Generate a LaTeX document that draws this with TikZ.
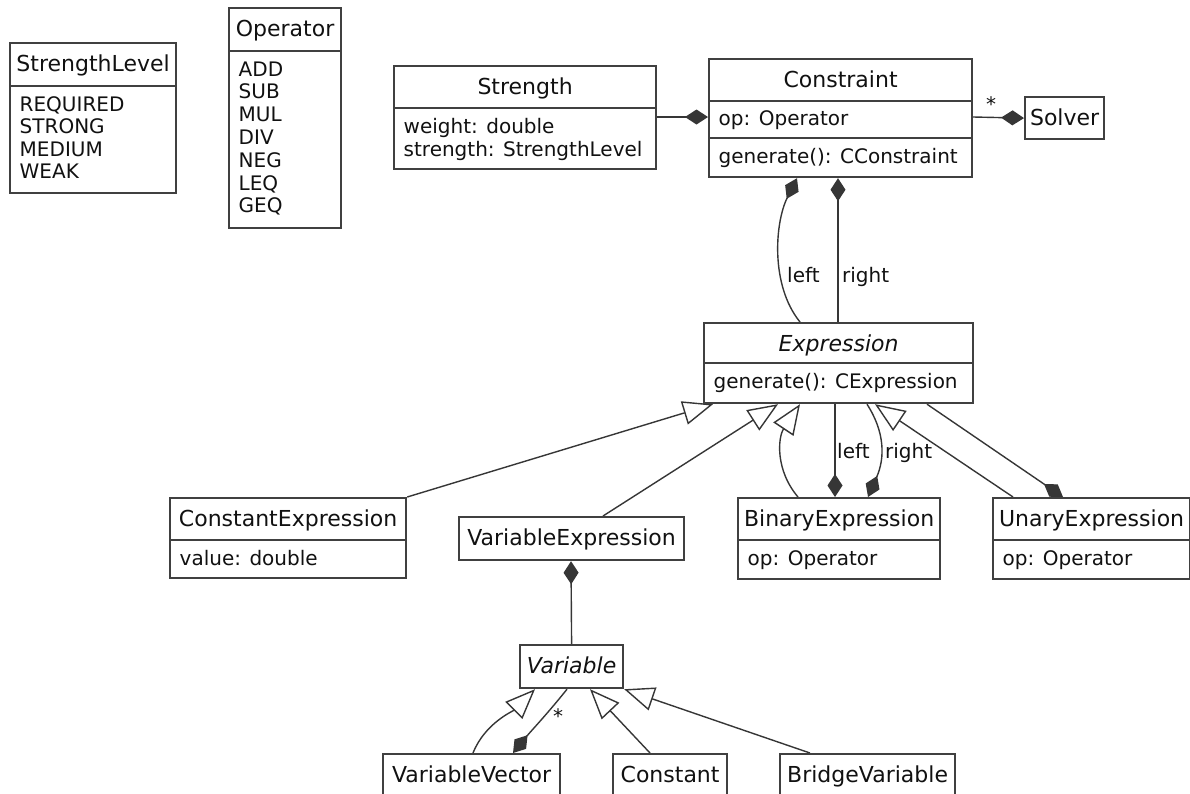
\documentclass[tikz,border=0pt]{standalone}
\usepackage{fontspec}
\setmainfont{DejaVu Sans}
\usetikzlibrary{arrows.meta,calc}
\definecolor{boxc}{HTML}{404040}
\definecolor{linec}{HTML}{363636}
\definecolor{txtc}{HTML}{111111}
\pgfdeclarelayer{background}
\pgfsetlayers{background,main}

% a class box: name, x, y, width, height, title
\newcommand{\classbox}[6]{%
  \node[box, minimum width=#4pt, minimum height=#5pt] (#1) at (#2,#3) {};
  \node[titletext] (#1-title) at ($(#1.north)+(0,29.3)$) {#6};}
% a compartment separator at a distance below the top of the box
\newcommand{\classsep}[2]{%
  \draw[boxline] ($(#1.north west)+(0,#2)$) -- ($(#1.north east)+(0,#2)$);}
% one attribute / literal line: node name, box, baseline offset, text
\newcommand{\classattr}[4]{%
  \node[attrtext] (#1) at ($(#2.north west)+(10.5,#3)$) {#4};}

\begin{document}
\begin{tikzpicture}[x=1pt,y=-1pt,
  box/.style={draw=boxc, line width=2.2pt, fill=white, inner sep=0pt, anchor=north west},
  boxline/.style={draw=boxc, line width=2.2pt},
  titletext/.style={anchor=base, inner sep=0pt, text=txtc, font=\fontsize{22}{26}\selectfont},
  attrtext/.style={anchor=base west, inner sep=0pt, text=txtc, font=\fontsize{20}{23}\selectfont},
  lbl/.style={inner sep=0pt, text=txtc, font=\fontsize{20}{23}\selectfont},
  conn/.style={draw=linec, line width=1.4pt},
  comp/.style={conn, -{Diamond[length=23pt,width=15pt]}, color=linec},
  compstart/.style={conn, {Diamond[length=23pt,width=15pt]}-, color=linec},
  gen/.style={conn, -{Triangle[open,length=30pt,width=24pt,fill=white]}, color=linec}]
\useasboundingbox (0,0) rectangle (1190,793);
\clip (0,0) rectangle (1190,793);

% enumerations
\classbox{slevel}{9}{42}{166}{150}{StrengthLevel}
\classsep{slevel}{44}
\foreach \t [count=\i from 0] in {REQUIRED,STRONG,MEDIUM,WEAK}
  \classattr{slevel-\i}{slevel}{69+22.5*\i}{\t};

\classbox{operator}{228}{7}{112}{220}{Operator}
\classsep{operator}{44}
\foreach \t [count=\i from 0] in {ADD,SUB,MUL,DIV,NEG,LEQ,GEQ}
  \classattr{operator-\i}{operator}{69+22.8*\i}{\t};

% constraint side
\classbox{strength}{393}{65}{262}{103}{Strength}
\classsep{strength}{43}
\classattr{strength-a}{strength}{68.3}{weight: double}
\classattr{strength-b}{strength}{91.7}{strength: StrengthLevel}

\classbox{constraint}{708}{58}{263}{118}{Constraint}
\classsep{constraint}{43}
\classsep{constraint}{80}
\classattr{constraint-a}{constraint}{67}{op: Operator}
\classattr{constraint-m}{constraint}{105.3}{generate(): CConstraint}

\classbox{solver}{1024}{96}{79}{42}{Solver}

% expressions
\classbox{expr}{703}{322}{269}{80}{\itshape Expression}
\classsep{expr}{41}
\classattr{expr-m}{expr}{66}{generate(): CExpression}

\classbox{constexpr}{169}{497}{236}{80}{ConstantExpression}
\classsep{constexpr}{43}
\classattr{constexpr-a}{constexpr}{68}{value: double}

\classbox{varexpr}{458}{516}{225}{43}{VariableExpression}

\classbox{binexpr}{737}{497}{202}{81}{BinaryExpression}
\classsep{binexpr}{43}
\classattr{binexpr-a}{binexpr}{68}{op: Operator}

\classbox{unexpr}{992}{497}{197}{81}{UnaryExpression}
\classsep{unexpr}{43}
\classattr{unexpr-a}{unexpr}{68}{op: Operator}

% variables
\classbox{variable}{519}{644}{103}{43}{\itshape Variable}
\classbox{varvec}{382}{753}{177}{60}{VariableVector}
\classbox{constant}{612}{753}{114}{60}{Constant}
\classbox{bridge}{779}{753}{175}{60}{BridgeVariable}

% multiplicities and role names
\node[lbl, anchor=base] (solver-mult) at (991,111.5) {*};
\node[lbl, anchor=base west] (c-left) at (787,282) {left};
\node[lbl, anchor=base west] (c-right) at (842,282) {right};
\node[lbl, anchor=base west] (b-left) at (837,458) {left};
\node[lbl, anchor=base west] (b-right) at (885,458) {right};
\node[lbl, anchor=base] (vv-mult) at (558,723.5) {*};

\begin{pgfonlayer}{background}
  % compositions around Constraint
  \draw[comp] ($(strength.north east)+(0,52)$) -- ($(constraint.north west)+(0,59)$);
  \draw[comp] ($(constraint.north east)+(0,59)$) -- (solver.west);
  \draw[comp] ($(expr.north west)+(97,0)$) .. controls +(-30,-37) and +(-22,44) .. ($(constraint.south west)+(89,0)$);
  \draw[comp] ($(expr.north west)+(135,0)$) -- ($(constraint.south west)+(130,0)$);

  % Expression hierarchy
  \draw[gen] (constexpr.north east) -- ($(expr.south west)+(10,0)$);
  \draw[gen] ($(varexpr.north west)+(145,0)$) -- ($(expr.south west)+(75,0)$);
  \draw[gen] ($(binexpr.north west)+(61,0)$) .. controls +(-23,-27) and +(-22,33) .. ($(expr.south west)+(97,0)$);
  \draw[comp] ($(expr.south west)+(132,0)$) -- ($(binexpr.north west)+(98,0)$);
  \draw[comp] ($(expr.south west)+(164,0)$) .. controls +(18,28) and +(17,-39) .. ($(binexpr.north west)+(131,0)$);
  \draw[gen] ($(unexpr.north west)+(21,0)$) -- ($(expr.south west)+(172,0)$);
  \draw[comp] ($(expr.south west)+(224,0)$) -- ($(unexpr.north west)+(71,0)$);

  % Variable hierarchy
  \draw[compstart] ($(varexpr.south west)+(113,0)$) -- (variable.north);
  \draw[gen] ($(varvec.north west)+(91,0)$) .. controls +(12,-30) and +(-22,22) .. ($(variable.south west)+(16,0)$);
  \draw[comp] ($(variable.south west)+(48,0)$) .. controls +(-20,25) and +(18,-22) .. ($(varvec.north west)+(131,0)$);
  \draw[gen] ($(constant.north west)+(38,0)$) -- ($(variable.south west)+(71,0)$);
  \draw[gen] ($(bridge.north west)+(31,0)$) -- (variable.south east);
\end{pgfonlayer}
\end{tikzpicture}
\end{document}
